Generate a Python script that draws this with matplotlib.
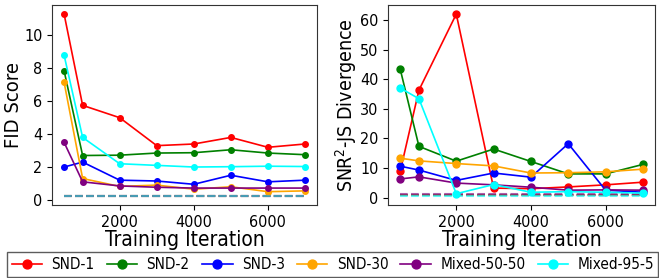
import matplotlib
matplotlib.use('Agg')
import matplotlib.pyplot as plt

iters = [500, 1000, 2000, 3000, 4000, 5000, 6000, 7000]
names = ['SND-1', 'SND-2', 'SND-3', 'SND-30', 'Mixed-50-50', 'Mixed-95-5']
colors = ['red', 'green', 'blue', 'orange', 'purple', 'cyan']

fid_snd1 = [11.3, 5.75, 5.0, 3.3, 3.4, 3.8, 3.2, 3.4]
fid_snd2 = [7.85, 2.7, 2.72, 2.85, 2.87, 3.05, 2.85, 2.75]
fid_snd3 = [2.0, 2.3, 1.2, 1.15, 0.95, 1.5, 1.1, 1.2]
fid_snd30 = [7.15, 1.3, 0.82, 0.9, 0.65, 0.8, 0.5, 0.55]
fid_mix5050 = [3.5, 1.1, 0.85, 0.77, 0.72, 0.72, 0.72, 0.72]
fid_mix955 = [8.8, 3.8, 2.2, 2.1, 2.0, 2.02, 2.05, 2.03]
fid_base = [0.25, 0.25, 0.25, 0.25, 0.25, 0.25]

js_snd1 = [9.0, 36.3, 62.0, 3.2, 3.0, 3.6, 4.3, 5.2]
js_snd2 = [43.3, 17.3, 12.3, 16.4, 12.2, 8.0, 8.0, 11.2]
js_snd3 = [10.6, 9.3, 5.8, 8.3, 6.9, 18.2, 2.5, 1.8]
js_snd30 = [13.3, 12.4, 11.5, 10.7, 8.3, 8.4, 8.7, 9.6]
js_mix5050 = [6.3, 7.0, 4.9, 4.3, 3.5, 2.5, 2.6, 2.5]
js_mix955 = [37.0, 33.4, 1.3, 4.4, 1.8, 2.0, 1.8, 1.5]
js_base = [1.0, 0.9, 0.8, 0.9, 1.1, 0.6]

fid = [fid_snd1, fid_snd2, fid_snd3, fid_snd30, fid_mix5050, fid_mix955]
js = [js_snd1, js_snd2, js_snd3, js_snd30, js_mix5050, js_mix955]

# the reference text is narrow, so ask for the condensed face
plt.rcParams['font.family'] = ['DejaVu Sans']
plt.rcParams['font.stretch'] = 'condensed'

fig = plt.figure(figsize=(6.59, 2.78), dpi=100)
ax1 = fig.add_axes([0.079, 0.263, 0.402, 0.719])
ax2 = fig.add_axes([0.589, 0.263, 0.405, 0.719])

handles = []
for vals, base, name, c in zip(fid, fid_base, names, colors):
    h, = ax1.plot(iters, vals, '-o', color=c, lw=1.2, ms=4, label=name)
    ax1.plot([iters[0], iters[-1]], [base, base], '--', color=c, lw=1.5, alpha=0.5)
    handles.append(h)

for vals, base, c in zip(js, js_base, colors):
    ax2.plot(iters, vals, '-o', color=c, lw=1.2, ms=5)
    ax2.plot([iters[0], iters[-1]], [base, base], '--', color=c, lw=1.5, alpha=0.6)

ax1.set_ylabel('FID Score', fontsize=14.5, labelpad=1)
ax2.set_ylabel('SNR$^2$-JS Divergence', fontsize=14, labelpad=1)
for ax in (ax1, ax2):
    ax.set_xlabel('Training Iteration', fontsize=15, labelpad=0)
    ax.set_xticks([2000, 4000, 6000])
    ax.tick_params(labelsize=11.5)
    for s in ax.spines.values():
        s.set_color('#333333')
ax1.set_yticks([0, 2, 4, 6, 8, 10])
ax2.set_yticks([0, 10, 20, 30, 40, 50, 60])

fig.legend(handles=handles, loc='upper left', bbox_to_anchor=(0.011, 0.092),
           ncol=6, fontsize=11, handlelength=2.0, handletextpad=0.6,
           columnspacing=0.8, borderpad=0.3, borderaxespad=0, fancybox=False,
           edgecolor='#333333', markerscale=1.6)

fig.savefig('out.png', dpi=100)
